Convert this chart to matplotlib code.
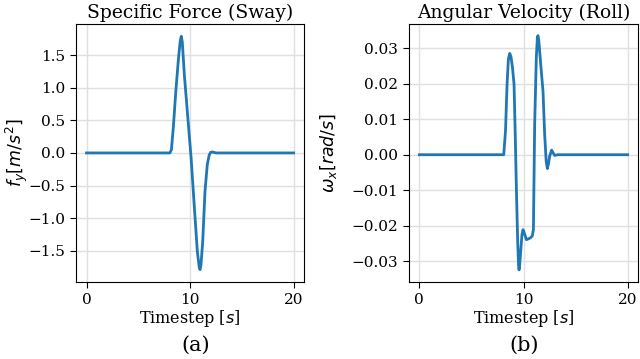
import numpy as np
import matplotlib
matplotlib.use("Agg")
import matplotlib.pyplot as plt

plt.rcParams['font.family'] = 'DejaVu Serif'
plt.rcParams['mathtext.fontset'] = 'dejavusans'

# specific force (sway)
t_force = [0, 8.05, 8.2, 8.4, 8.62, 8.88, 9.05, 9.15, 9.25, 9.45, 9.84, 10.1,
           10.42, 10.7, 10.88, 10.96, 11.05, 11.22, 11.44, 11.66, 11.85, 12.0,
           12.15, 12.5, 20]
f_y = [0, 0, 0.05, 0.43, 0.94, 1.45, 1.72, 1.79, 1.70, 1.19, 0.43, -0.08,
       -0.85, -1.51, -1.75, -1.79, -1.72, -1.36, -0.59, -0.18, -0.03, 0.01,
       0.015, 0.0, 0]

# angular velocity (roll)
t_roll = [0, 8.1, 8.27, 8.42, 8.55, 8.68, 8.8, 8.94, 9.09, 9.22, 9.32, 9.44,
          9.52, 9.57, 9.63, 9.73, 9.85, 9.95, 10.05, 10.28, 10.66, 10.85, 10.95,
          11.07, 11.23, 11.33, 11.39, 11.47, 11.65, 11.87, 12.03, 12.18, 12.29,
          12.4, 12.51, 12.7, 12.85, 12.99, 13.3, 20]
w_x = [0, 0, 0.0067, 0.0198, 0.027, 0.0285, 0.0275, 0.0245, 0.0198, 0.0038,
       -0.0103, -0.0244, -0.031, -0.0324, -0.031, -0.0272, -0.0225, -0.0211,
       -0.0218, -0.0239, -0.0234, -0.0228, -0.0210, 0.0085, 0.0274, 0.0330,
       0.0335, 0.0320, 0.0255, 0.0179, 0.0057, -0.0020, -0.0039, -0.0025,
       -0.0004, 0.0013, 0.0005, -0.0002, 0.0, 0]

fig = plt.figure(figsize=(6.4, 3.59), dpi=100)
ax1 = fig.add_axes([0.119, 0.2145, 0.356, 0.719])
ax2 = fig.add_axes([0.639, 0.2145, 0.358, 0.719])

panels = [
    (ax1, t_force, f_y, 'Specific Force (Sway)', r'$f_y [m/s^2]$', [-1.5, -1.0, -0.5, 0.0, 0.5, 1.0, 1.5], '(a)', 196, -1.5),
    (ax2, t_roll, w_x, 'Angular Velocity (Roll)', r'$\omega_x [rad/s]$', [-0.03, -0.02, -0.01, 0.0, 0.01, 0.02, 0.03], '(b)', 524, 9),
]

for ax, t, y, title, ylab, yt, cap, cx, lp in panels:
    ax.plot(t, y, color='#1f77b4', lw=2)
    ax.set_title(title, fontsize=13.5, pad=4)
    ax.set_xlabel(r'Timestep [$s$]', fontsize=11.5, labelpad=1)
    ax.set_ylabel(ylab, fontsize=12.5, labelpad=lp)
    ax.set_xticks([0, 10, 20])
    ax.set_yticks(yt)
    ax.tick_params(labelsize=11, length=4.3, pad=3.5)
    ax.grid(True, color='#e0e0e0', lw=1)
    ax.set_axisbelow(True)
    fig.text(cx / 640, 0.039, cap, fontsize=15, ha='center', va='center')

ax1.set_ylim(-1.98, 1.98)
ax2.set_ylim(-0.0358, 0.0368)

fig.savefig('out.png', dpi=100)
